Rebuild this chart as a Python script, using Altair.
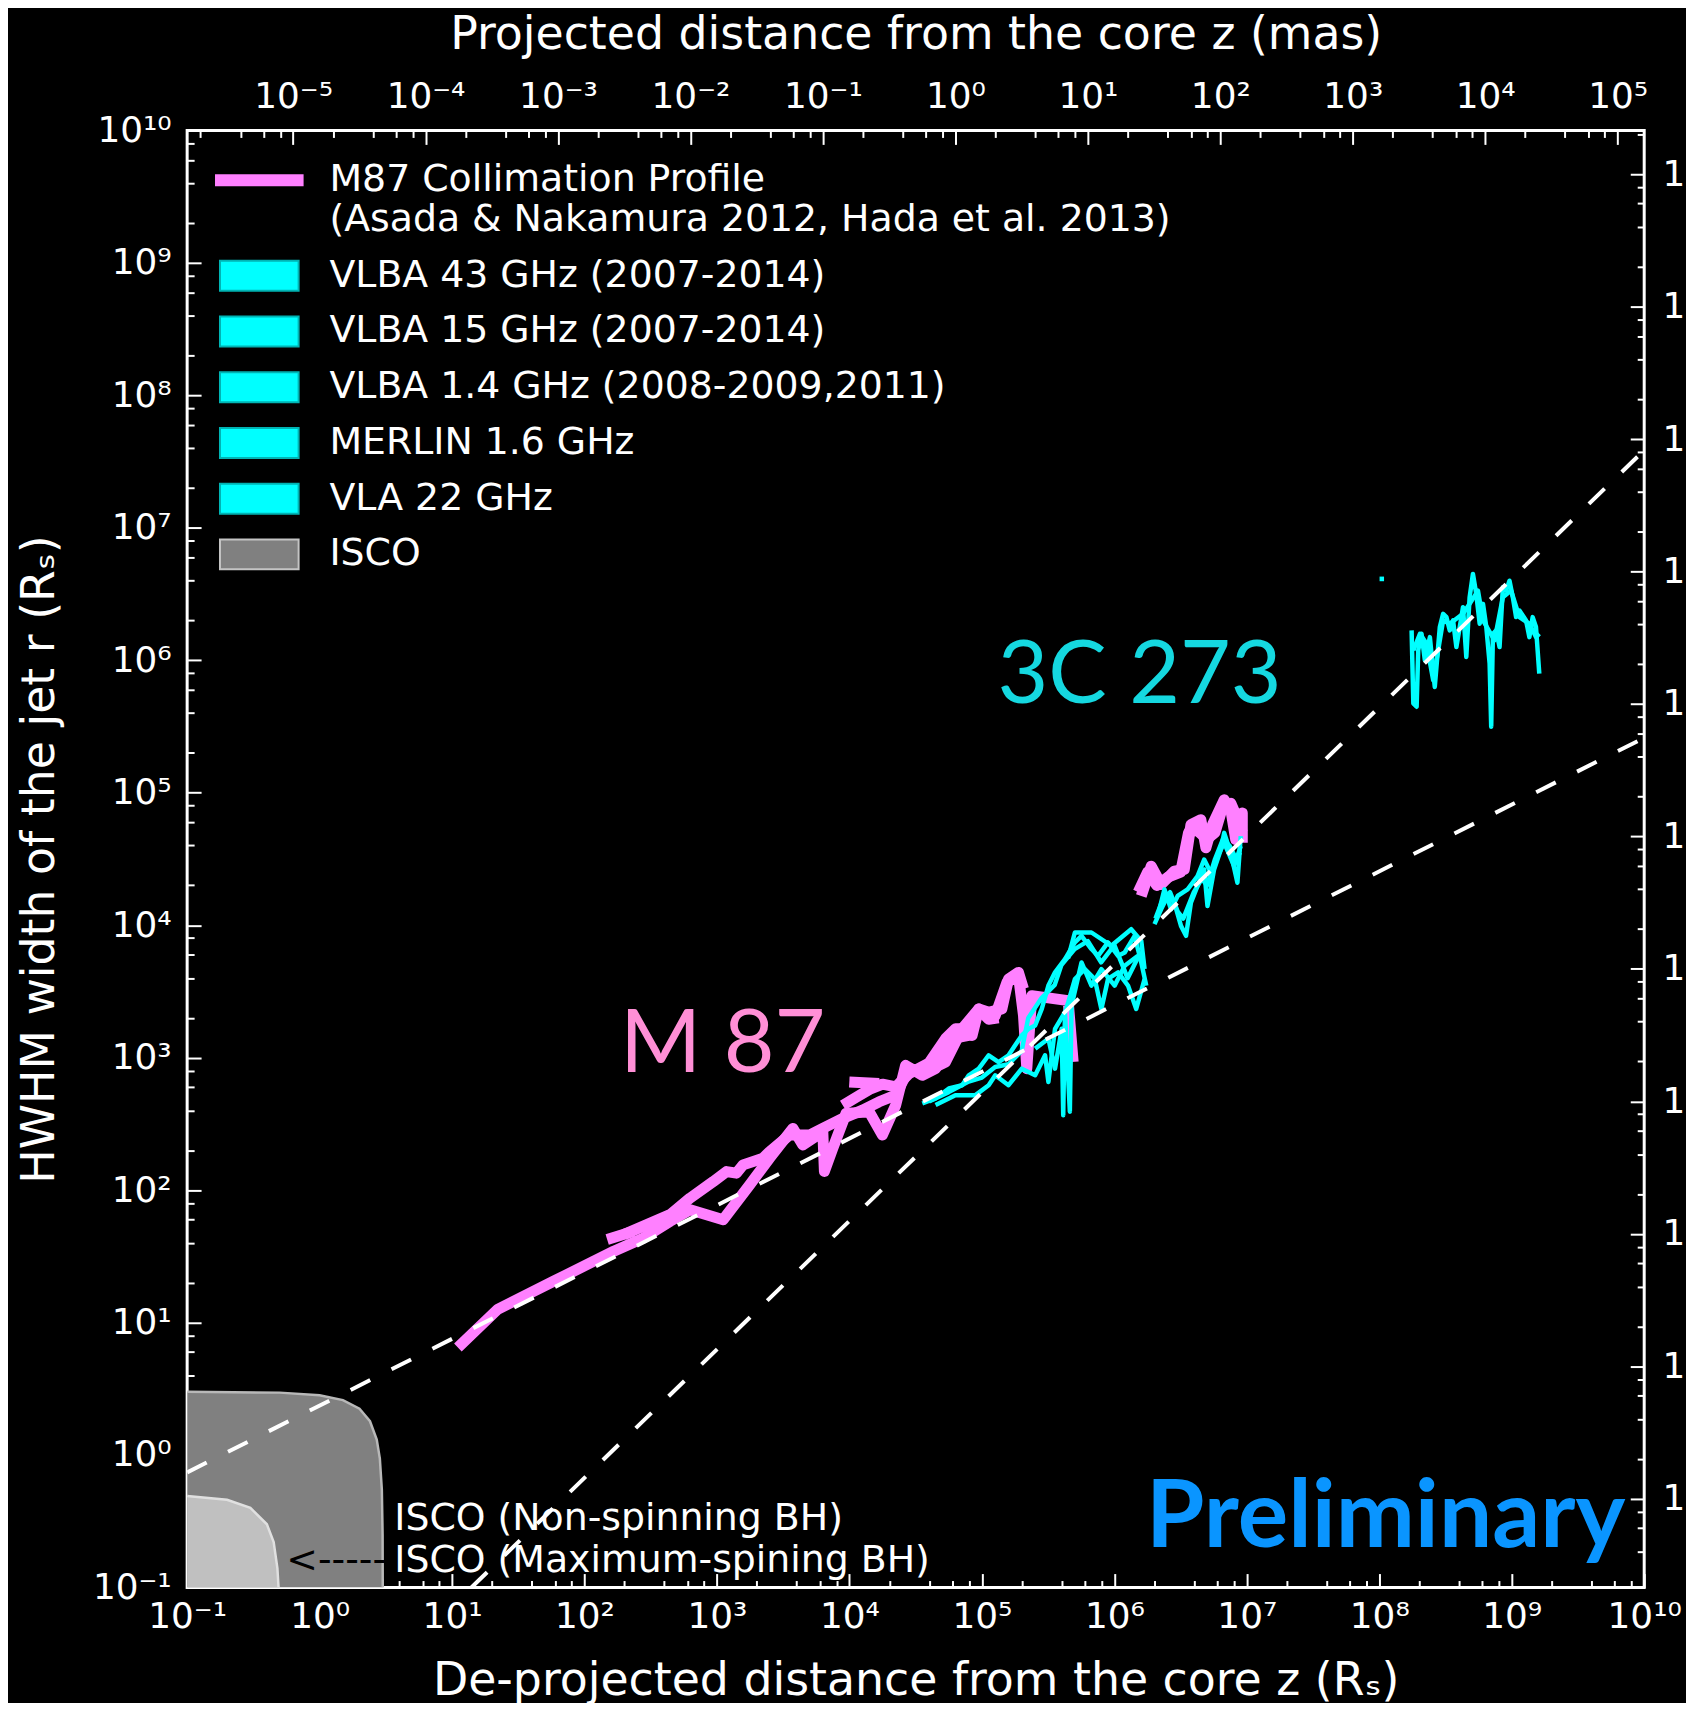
import json
import altair as alt
import pandas as pd

# ------------------------------------------------------------------
# Values (log10 of z and r, both in R_s)
# ------------------------------------------------------------------
# M87 collimation profile (pink)
m87_main_logz = [1.044, 1.344, 1.770, 2.221, 2.446, 2.646, 2.797, 3.047, 3.247, 3.397,
                 3.573, 3.648, 3.799, 3.811, 3.874, 3.974, 4.149, 4.249, 4.349, 4.424,
                 4.550, 4.650, 4.775, 4.900, 4.975, 5.101, 5.189, 5.276, 5.314, 5.339,
                 5.377, 5.651, 5.689]
m87_main_logr = [0.812, 1.100, 1.314, 1.539, 1.639, 1.765, 1.852, 1.777, 2.040, 2.241,
                 2.466, 2.341, 2.441, 2.141, 2.316, 2.579, 2.592, 2.416, 2.641, 2.942,
                 2.867, 2.917, 3.143, 3.168, 3.344, 3.318, 3.569, 3.619, 3.318, 2.917,
                 3.468, 3.431, 2.968]
m87_upper_logz = [2.296, 2.646, 2.797, 2.972, 3.072, 3.147, 3.197, 3.348, 3.398, 3.548,
                  3.698, 3.798, 3.949, 4.099, 4.224, 4.349, 4.450, 4.575, 4.725, 4.851,
                  4.976, 5.051, 5.126]
m87_upper_logr = [1.664, 1.815, 1.940, 2.065, 2.140, 2.128, 2.191, 2.241, 2.291, 2.416,
                  2.416, 2.466, 2.541, 2.604, 2.667, 2.717, 2.917, 2.892, 2.967, 3.218,
                  3.368, 3.290, 3.300]
m87_top_logz = [3.950, 4.050, 4.150, 4.250, 4.350, 4.450, 4.600, 4.725, 4.800, 4.851,
                4.926, 4.976, 5.051, 5.151, 5.201, 5.276, 5.314]
m87_top_logr = [2.640, 2.700, 2.760, 2.800, 2.780, 2.880, 2.960, 3.143, 3.218, 3.218,
                3.168, 3.368, 3.343, 3.368, 3.594, 3.644, 3.520]
m87_stub1_logz = [2.171, 2.371]
m87_stub1_logr = [1.627, 1.689]
m87_stub2_logz = [3.999, 4.224]
m87_stub2_logr = [2.817, 2.805]
m87_outer_logz = [6.203, 6.278, 6.353, 6.453, 6.528, 6.578, 6.653, 6.691, 6.741, 6.829,
                  6.879, 6.916, 6.966, 6.966]
m87_outer_logr = [4.220, 4.446, 4.308, 4.408, 4.421, 4.759, 4.797, 4.584, 4.759, 4.947,
                  4.872, 4.647, 4.847, 4.622]
m87_outer2_logz = [6.180, 6.250, 6.320, 6.400, 6.500, 6.560, 6.620, 6.700, 6.760, 6.820,
                   6.880, 6.940, 6.966]
m87_outer2_logr = [4.250, 4.400, 4.300, 4.360, 4.400, 4.700, 4.720, 4.650, 4.700, 4.900,
                   4.920, 4.780, 4.700]

# 3C 273 (cyan)
v43_a_logz = [4.550, 4.650, 4.750, 4.851, 4.901, 4.976, 5.051, 5.126, 5.201, 5.251,
              5.301, 5.352, 5.402, 5.452, 5.502, 5.552, 5.627, 5.702, 5.752, 5.827,
              5.877, 5.952, 6.028, 6.078, 6.153, 6.203, 6.241]
v43_a_logr = [2.654, 2.692, 2.767, 2.792, 2.867, 2.917, 3.018, 2.967, 3.018, 3.093,
              3.168, 3.218, 3.243, 3.368, 3.544, 3.644, 3.744, 3.870, 3.920, 3.820,
              3.769, 3.870, 3.769, 3.794, 3.920, 3.719, 3.544]
v43_b_logz = [4.650, 4.800, 4.951, 5.051, 5.101, 5.201, 5.301, 5.402, 5.477, 5.502,
              5.552, 5.627, 5.652, 5.702, 5.777, 5.852, 5.902, 5.952, 6.028, 6.103,
              6.165, 6.228]
v43_b_logr = [2.642, 2.717, 2.717, 2.792, 2.867, 2.792, 2.917, 2.867, 3.018, 2.817,
              3.218, 3.343, 3.419, 3.594, 3.669, 3.594, 3.368, 3.594, 3.644, 3.544,
              3.368, 3.594]
v43_c_logz = [5.402, 5.502, 5.552, 5.602, 5.614, 5.627, 5.664, 5.677, 5.752, 5.827,
              5.902, 6.002, 6.078, 6.178]
v43_c_logr = [3.068, 3.143, 2.917, 3.218, 2.566, 3.343, 2.592, 3.393, 3.719, 3.544,
              3.669, 3.544, 3.694, 3.769]
v43_d_logz = [5.650, 5.702, 5.827, 5.977, 6.127, 6.203, 6.228]
v43_d_logr = [3.750, 3.945, 3.945, 3.845, 3.970, 3.882, 3.669]
v43_e_logz = [4.600, 4.750, 4.900, 5.000, 5.100, 5.200, 5.300, 5.350, 5.450, 5.550,
              5.600, 5.700, 5.800, 5.900, 6.000, 6.100, 6.200]
v43_e_logr = [2.670, 2.740, 2.820, 2.850, 2.930, 2.950, 3.050, 3.300, 3.450, 3.550,
              3.700, 3.820, 3.880, 3.720, 3.850, 3.600, 3.800]
v15_logz = [6.303, 6.353, 6.403, 6.453, 6.503, 6.541, 6.578, 6.628, 6.678, 6.703,
            6.753, 6.804, 6.829, 6.879, 6.929, 6.954]
v15_logr = [4.008, 4.120, 4.221, 4.170, 3.995, 3.920, 4.170, 4.296, 4.421, 4.145,
            4.421, 4.572, 4.697, 4.546, 4.321, 4.672]
v14_logz = [6.328, 6.378, 6.428, 6.478, 6.553, 6.628, 6.678, 6.728, 6.779, 6.829,
            6.904, 6.954]
v14_logr = [4.070, 4.271, 4.120, 4.221, 4.271, 4.371, 4.496, 4.396, 4.521, 4.622,
            4.446, 4.597]
v14_b_logz = [6.310, 6.360, 6.420, 6.480, 6.520, 6.600, 6.660, 6.700, 6.760, 6.820,
              6.870, 6.920, 6.950]
v14_b_logr = [4.050, 4.180, 4.250, 4.100, 4.050, 4.250, 4.350, 4.300, 4.500, 4.650,
              4.600, 4.500, 4.550]
merlin_logz = [8.019, 8.019]
merlin_logr = [6.632, 6.597]
vla_a_logz = [8.244, 8.257, 8.282, 8.294, 8.319, 8.344, 8.382, 8.419, 8.457, 8.482,
              8.507, 8.532, 8.557, 8.582, 8.620, 8.632, 8.657, 8.682, 8.707, 8.732,
              8.758, 8.783, 8.808, 8.833, 8.845, 8.858, 8.883, 8.908, 8.933, 8.958,
              8.983, 9.008, 9.033, 9.058, 9.108, 9.133, 9.158, 9.183, 9.208]
vla_a_logr = [6.226, 5.674, 5.649, 6.075, 6.200, 6.000, 6.175, 5.799, 6.251, 6.351,
              6.326, 6.226, 6.301, 6.100, 6.326, 6.401, 6.025, 6.476, 6.652, 6.501,
              6.276, 6.426, 6.251, 5.975, 5.499, 6.200, 6.226, 6.100, 6.551, 6.526,
              6.601, 6.476, 6.326, 6.376, 6.301, 6.175, 6.326, 6.251, 5.900]
vla_b_logz = [8.257, 8.307, 8.357, 8.407, 8.482, 8.532, 8.632, 8.682, 8.745, 8.783,
              8.870, 8.933, 8.995, 9.058, 9.133, 9.183, 9.208]
vla_b_logr = [6.075, 6.200, 6.125, 5.850, 6.301, 6.276, 6.351, 6.426, 6.526, 6.301,
              6.150, 6.476, 6.526, 6.326, 6.276, 6.175, 6.201]

# dashed reference lines (end points, R_s)
para_z = [0.1, 1.0e10]
para_r = [0.74, 2.6e5]
cone_z = [14.0, 1.0e10]
cone_r = [0.1, 3.85e7]

# ISCO regions (boundary, R_s)
isco_out_z = [0.1, 0.5, 1.0, 1.5, 2.0, 2.4, 2.7, 2.85, 2.95, 2.99, 2.998]
isco_out_r = [3.0, 2.96, 2.83, 2.6, 2.24, 1.8, 1.31, 0.94, 0.55, 0.25, 0.1]
isco_in_z = [0.1, 0.2, 0.3, 0.4, 0.45, 0.48, 0.49]
isco_in_r = [0.49, 0.46, 0.40, 0.30, 0.22, 0.14, 0.1]

# text annotations
source_text = ["M 87", "3C 273", "Preliminary"]
source_z = [185.0, 1.31e5, 7.2e9]
source_r = [780.0, 4.8e5, 0.203]
isco_text = ["ISCO (Non-spinning BH)", "ISCO (Maximum-spining BH)"]
isco_text_z = [3.66, 3.66]
isco_text_r = [0.273, 0.131]
arrow_text = ["<-----"]
arrow_z = [0.56]
arrow_r = [0.131]

# legend
legend_series = ["M87 Collimation Profile", "VLBA 43 GHz (2007-2014)", "VLBA 15 GHz (2007-2014)",
                 "VLBA 1.4 GHz (2008-2009,2011)", "MERLIN 1.6 GHz", "VLA 22 GHz", "ISCO"]
m87_label_lines = ["M87 Collimation Profile", "(Asada & Nakamura 2012, Hada et al. 2013)"]

# tick labels
x_major_labels = ["10⁻¹", "10⁰", "10¹", "10²", "10³", "10⁴", "10⁵", "10⁶", "10⁷", "10⁸", "10⁹", "10¹⁰"]
mas_labels = ["10⁻⁵", "10⁻⁴", "10⁻³", "10⁻²", "10⁻¹", "10⁰", "10¹", "10²", "10³", "10⁴", "10⁵"]
right_labels = ["10⁻¹", "10⁰", "10¹", "10²", "10³", "10⁴", "10⁵", "10⁶", "10⁷", "10⁸", "10⁹"]
MAS_TO_RS_LOG = 4.8      # 1 mas ~ 10^4.8 R_s (top axis)
RIGHT_TO_RS_LOG = 0.67   # right-hand axis offset

# ------------------------------------------------------------------
PINK = "#ff80ff"
CYAN = "#00ffff"
W, H = 1464, 1464
FONT = "DejaVu Sans"


def trace(series, seg, lz, lr):
    return [{"series": series, "seg": seg, "idx": i, "z": 10 ** a, "r": 10 ** b}
            for i, (a, b) in enumerate(zip(lz, lr))]


pink_rows = (trace("M87", "main", m87_main_logz, m87_main_logr)
             + trace("M87", "upper", m87_upper_logz, m87_upper_logr)
             + trace("M87", "top", m87_top_logz, m87_top_logr)
             + trace("M87", "stub1", m87_stub1_logz, m87_stub1_logr)
             + trace("M87", "stub2", m87_stub2_logz, m87_stub2_logr)
             + trace("M87", "outer", m87_outer_logz, m87_outer_logr)
             + trace("M87", "outer2", m87_outer2_logz, m87_outer2_logr))
cyan_rows = (trace(legend_series[1], "a", v43_a_logz, v43_a_logr)
             + trace(legend_series[1], "b", v43_b_logz, v43_b_logr)
             + trace(legend_series[1], "c", v43_c_logz, v43_c_logr)
             + trace(legend_series[1], "d", v43_d_logz, v43_d_logr)
             + trace(legend_series[1], "e", v43_e_logz, v43_e_logr)
             + trace(legend_series[2], "f", v15_logz, v15_logr)
             + trace(legend_series[3], "g", v14_logz, v14_logr)
             + trace(legend_series[3], "h", v14_b_logz, v14_b_logr)
             + trace(legend_series[4], "i", merlin_logz, merlin_logr)
             + trace(legend_series[5], "j", vla_a_logz, vla_a_logr)
             + trace(legend_series[5], "k", vla_b_logz, vla_b_logr))
pink_df = pd.DataFrame(pink_rows)
cyan_df = pd.DataFrame(cyan_rows)

dash_df = pd.DataFrame({
    "seg": ["para"] * 2 + ["cone"] * 2,
    "idx": [0, 1, 0, 1],
    "z": para_z + cone_z,
    "r": para_r + cone_r,
})
isco_out_df = pd.DataFrame({"z": isco_out_z, "r": isco_out_r, "r0": [0.1] * len(isco_out_z)})
isco_in_df = pd.DataFrame({"z": isco_in_z, "r": isco_in_r, "r0": [0.1] * len(isco_in_z)})

xs = alt.Scale(type="log", domain=[0.1, 1e10], nice=False)
ys = alt.Scale(type="log", domain=[0.1, 1e10], nice=False)


def X(axis=None):
    return alt.X("z:Q", scale=xs, axis=axis)


def Y(axis=None):
    return alt.Y("r:Q", scale=ys, axis=axis)


layers = []

# ISCO regions
layers.append(alt.Chart(isco_out_df).mark_area(color="#808080", clip=True).encode(
    x=X(), y=Y(), y2="r0:Q"))
layers.append(alt.Chart(isco_out_df).mark_line(color="#b8b8b8", strokeWidth=2.5, clip=True).encode(
    x=X(), y=Y()))
layers.append(alt.Chart(isco_in_df).mark_area(color="#c0c0c0", clip=True).encode(
    x=X(), y=Y(), y2="r0:Q"))
layers.append(alt.Chart(isco_in_df).mark_line(color="#e0e0e0", strokeWidth=2.5, clip=True).encode(
    x=X(), y=Y()))

# ISCO annotations
layers.append(alt.Chart(pd.DataFrame({"z": isco_text_z, "r": isco_text_r, "t": isco_text}))
              .mark_text(font=FONT, fontSize=38, color="white", align="left", baseline="alphabetic")
              .encode(x=X(), y=Y(), text="t:N"))
layers.append(alt.Chart(pd.DataFrame({"z": arrow_z, "r": arrow_r, "t": arrow_text}))
              .mark_text(font=FONT, fontSize=38, color="black", align="left", baseline="alphabetic")
              .encode(x=X(), y=Y(), text="t:N"))

# data traces
layers.append(alt.Chart(pink_df).mark_line(color=PINK, strokeWidth=11, strokeJoin="round",
                                           strokeCap="butt", clip=True).encode(
    x=X(), y=Y(), detail="seg:N", order="idx:Q"))
layers.append(alt.Chart(cyan_df).mark_line(color=CYAN, strokeWidth=4.5, strokeJoin="round",
                                           clip=True).encode(
    x=X(), y=Y(), detail="seg:N", order="idx:Q"))

# dashed reference lines
layers.append(alt.Chart(dash_df).mark_line(color="white", strokeWidth=4, strokeDash=[22, 24],
                                           clip=True).encode(
    x=X(), y=Y(), detail="seg:N", order="idx:Q"))

# source names
src_df = pd.DataFrame({"z": source_z, "r": source_r, "t": source_text})
layers.append(alt.Chart(src_df.iloc[[0]]).mark_text(font="Lato", fontSize=88, color="#ff8fd6",
                                                    align="left", baseline="alphabetic")
              .encode(x=X(), y=Y(), text="t:N"))
layers.append(alt.Chart(src_df.iloc[[1]]).mark_text(font="Lato", fontSize=88, color="#15d8e0",
                                                    align="left", baseline="alphabetic")
              .encode(x=X(), y=Y(), text="t:N"))
layers.append(alt.Chart(src_df.iloc[[2]]).mark_text(font="Lato", fontSize=95, fontWeight="bold",
                                                    color="#0a95ff", align="right",
                                                    baseline="alphabetic")
              .encode(x=X(), y=Y(), text="t:N"))

# legend (hidden layer that only carries the legend)
pink_path = "M-4.35,-0.5H4.35V0.5H-4.35Z"
box_path = "M-3.95,-1.5H3.95V1.5H-3.95Z"
legend_fill = [PINK, CYAN, CYAN, CYAN, CYAN, CYAN, "#808080"]
legend_stroke = [PINK, "#00b4b4", "#00b4b4", "#00b4b4", "#00b4b4", "#00b4b4", "#c4c4c4"]
legend_shape = [pink_path] + [box_path] * 6
label_expr = ("datum.label == " + json.dumps(m87_label_lines[0]) + " ? "
              + json.dumps(m87_label_lines, ensure_ascii=False) + " : datum.label")
leg = alt.Legend(title=None, orient="none", legendX=53.5, legendY=31, symbolSize=400,
                 symbolStrokeWidth=2, symbolOpacity=1, labelFont=FONT, labelFontSize=38,
                 labelColor="white", labelOffset=51.5, rowPadding=18, labelLimit=1500,
                 padding=0, labelExpr=label_expr, direction="vertical")
legend_df = pd.DataFrame({"series": legend_series})
layers.append(alt.Chart(legend_df).transform_filter("false")
              .mark_point(filled=True, opacity=1, strokeWidth=2)
              .encode(x=alt.value(0), y=alt.value(0),
                      fill=alt.Fill("series:N", scale=alt.Scale(domain=legend_series, range=legend_fill), legend=leg),
                      stroke=alt.Stroke("series:N", scale=alt.Scale(domain=legend_series, range=legend_stroke), legend=leg),
                      shape=alt.Shape("series:N", scale=alt.Scale(domain=legend_series, range=legend_shape), legend=leg)))

# ------------------------------------------------------------------
# axes (carried by invisible layers); ticks point inwards like the reference
# ------------------------------------------------------------------
subs = [2, 4, 6, 8]
x_major = [10.0 ** k for k in range(-1, 11)]
x_minor = [m * 10.0 ** k for k in range(-1, 10) for m in subs]
top_major = [10.0 ** (k + MAS_TO_RS_LOG) for k in range(-5, 6)]
top_minor = [v for v in (m * 10.0 ** (k + MAS_TO_RS_LOG) for k in range(-6, 6) for m in subs)
             if 0.1 < v < 1e10]
right_major = [10.0 ** (k + RIGHT_TO_RS_LOG) for k in range(-1, 10)]
right_minor = [v for v in (m * 10.0 ** (k + RIGHT_TO_RS_LOG) for k in range(-2, 10) for m in subs)
               if 0.1 < v < 1e10]

lab_x = json.dumps(x_major_labels, ensure_ascii=False) + "[round(log(datum.value)/LN10)+1]"
lab_top = (json.dumps(mas_labels, ensure_ascii=False)
           + f"[round(log(datum.value)/LN10-{MAS_TO_RS_LOG})+5]")
lab_right = (json.dumps(right_labels, ensure_ascii=False)
             + f"[round(log(datum.value)/LN10-{RIGHT_TO_RS_LOG})+1]")

carrier = pd.DataFrame({"z": [1.0], "r": [1.0]})


def tick_axis(orient, values, size, offset):
    return alt.Axis(orient=orient, values=values, offset=offset, labels=False, ticks=True,
                    tickSize=size, tickWidth=2, tickColor="white", domain=False, grid=False,
                    title=None)


x_axes = [
    alt.Axis(orient="bottom", values=x_major, labelExpr=lab_x, ticks=False, tickSize=0,
             labelPadding=12, labelBaseline="top",
             title="De-projected distance from the core z (Rₛ)", titleX=W / 2, titleY=107,
             titleBaseline="alphabetic", titleAlign="center"),
    tick_axis("top", x_major, 14, -H),
    tick_axis("top", x_minor, 7, -H),
    alt.Axis(orient="top", values=top_major, labelExpr=lab_top, ticks=False, tickSize=0,
             labelPadding=15, labelBaseline="bottom",
             title="Projected distance from the core z (mas)", titleX=W / 2, titleY=-82,
             titleBaseline="alphabetic", titleAlign="center"),
    tick_axis("bottom", top_major, 14, -H),
    tick_axis("bottom", top_minor, 7, -H),
]
y_axes = [
    alt.Axis(orient="left", values=x_major, labelExpr=lab_x, ticks=False, tickSize=0,
             labelPadding=16, title="HWHM width of the jet r (Rₛ)", titleAngle=270,
             titleX=-134, titleY=H / 2, titleBaseline="alphabetic", titleAlign="center"),
    tick_axis("right", x_major, 14, -W),
    tick_axis("right", x_minor, 7, -W),
    alt.Axis(orient="right", values=right_major, labelExpr=lab_right, ticks=False, tickSize=0,
             labelPadding=18, title=None),
    tick_axis("left", right_major, 14, -W),
    tick_axis("left", right_minor, 7, -W),
]
for ax in x_axes:
    layers.append(alt.Chart(carrier).mark_point(opacity=0).encode(x=X(ax), y=Y()))
for ax in y_axes:
    layers.append(alt.Chart(carrier).mark_point(opacity=0).encode(x=X(), y=Y(ax)))

chart = (
    alt.layer(*layers)
    .resolve_axis(x="independent", y="independent")
    .properties(width=W, height=H,
                autosize=alt.AutoSizeParams(type="none"),
                padding={"left": 180, "top": 119, "right": 42, "bottom": 112})
    .configure(background="black")
    .configure_view(stroke="white", strokeWidth=3)
    .configure_axis(labelFont=FONT, labelFontSize=36, labelColor="white", titleFont=FONT,
                    titleFontSize=46, titleColor="white", titleFontWeight="normal",
                    labelFlush=False, labelOverlap=False, grid=False, domain=False)
)

chart.save("out.html", embed_options={"renderer": "svg", "actions": False})
